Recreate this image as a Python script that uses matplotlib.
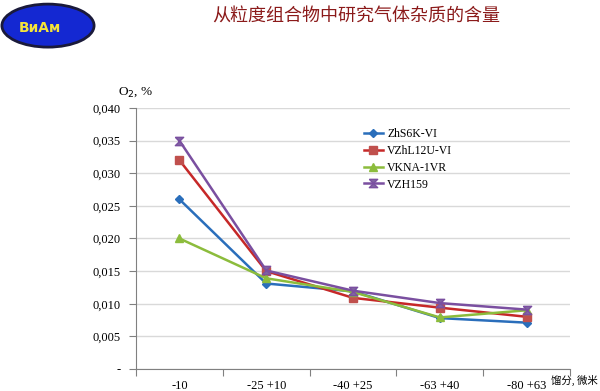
import matplotlib
matplotlib.use("Agg")
import matplotlib.pyplot as plt
from matplotlib.patches import Ellipse
from matplotlib.path import Path

# fractions (microns) and O2 content, %
categories = ["-10", "-25 +10", "-40 +25", "-63 +40", "-80 +63"]
zhs6k = [0.026, 0.0131, 0.0119, 0.0078, 0.0071]
vzhl12u = [0.032, 0.0150, 0.0109, 0.0094, 0.0080]
vkna = [0.020, 0.0139, 0.0118, 0.0079, 0.0090]
vzh159 = [0.035, 0.0151, 0.0120, 0.0101, 0.0091]
series_names = ["ZhS6K-VI", "VZhL12U-VI", "VKNA-1VR", "VZH159"]
y_ticks = [0, 0.005, 0.010, 0.015, 0.020, 0.025, 0.030, 0.035, 0.040]

serif = "Liberation Serif"
cjk = ["Noto Sans CJK SC", "DejaVu Sans"]

fig = plt.figure(figsize=(6, 3.91), dpi=100)
ax = fig.add_axes([0.2267, 0.0563, 0.7233, 0.6675])

# hourglass marker like the excel one
hourglass = Path([(-1, 1), (1, 1), (-1, -1), (1, -1), (-1, 1)])

styles = [
    dict(color="#2a6ebb", marker="D", ms=4.5),
    dict(color="#c62828", marker="s", ms=6, mfc="#c0504d", mec="#c0504d"),
    dict(color="#8cbc3c", marker="^", ms=6),
    dict(color="#7a4fa0", marker=hourglass, ms=6, mfc="#8064a2", mec="#7a4fa0"),
]
xs = list(range(len(categories)))
for vals, name, st in zip([zhs6k, vzhl12u, vkna, vzh159], series_names, styles):
    ax.plot(xs, vals, lw=1.8, label=name, **st)

ax.set_xlim(-0.5, len(categories) - 0.5)
ax.set_ylim(0, 0.040)
ax.set_yticks(y_ticks)
ax.set_yticklabels(["-"] + [f"{v:.3f}".replace(".", ",") for v in y_ticks[1:]],
                   fontfamily=serif, fontsize=9)
ax.grid(axis="y", color="#d9d9d9", lw=1)
ax.set_axisbelow(True)

# ticks on category borders, labels in the middle
ax.set_xticks([i - 0.5 for i in range(len(categories) + 1)])
ax.set_xticklabels([])
ax.set_xticks(xs, minor=True)
ax.set_xticklabels(categories, minor=True, fontfamily=serif, fontsize=9)
ax.tick_params(axis="x", which="minor", length=0, pad=8)
ax.tick_params(axis="x", which="major", length=5, color="#808080")
ax.tick_params(axis="y", length=5, color="#808080", pad=6)

for s in ["top", "right"]:
    ax.spines[s].set_visible(False)
for s in ["left", "bottom"]:
    ax.spines[s].set_color("#808080")

ax.text(0.0, 1.035, "O$_2$, %", transform=ax.transAxes, ha="center",
        va="bottom", fontfamily=serif, fontsize=9.5)
fig.text(0.996, 0.028, "馏分, 微米", family=cjk, fontsize=7.5, ha="right",
         va="center")

leg = ax.legend(loc="upper left", bbox_to_anchor=(0.5, 0.965), frameon=False,
                prop={"family": serif, "size": 8.5}, handlelength=1.6,
                labelspacing=0.42, handletextpad=0.4)

fig.text(0.593, 0.958, "从粒度组合物中研究气体杂质的含量", family=cjk,
         fontsize=13, color="#8b1a1a", style="italic", ha="center", va="center")

# logo
lax = fig.add_axes([0.0, 0.872, 0.16, 0.125])
lax.set_xlim(0, 1)
lax.set_ylim(0, 1)
lax.axis("off")
lax.add_patch(Ellipse((0.5, 0.5), 0.96, 0.88, facecolor="#1428d2",
                      edgecolor="#1a1a3a", lw=2))
lax.text(0.42, 0.45, "ВиАм", color="#f5e43a", fontsize=10, fontweight="bold",
         ha="center", va="center", fontfamily="DejaVu Sans")

fig.savefig("out.png", dpi=100)
